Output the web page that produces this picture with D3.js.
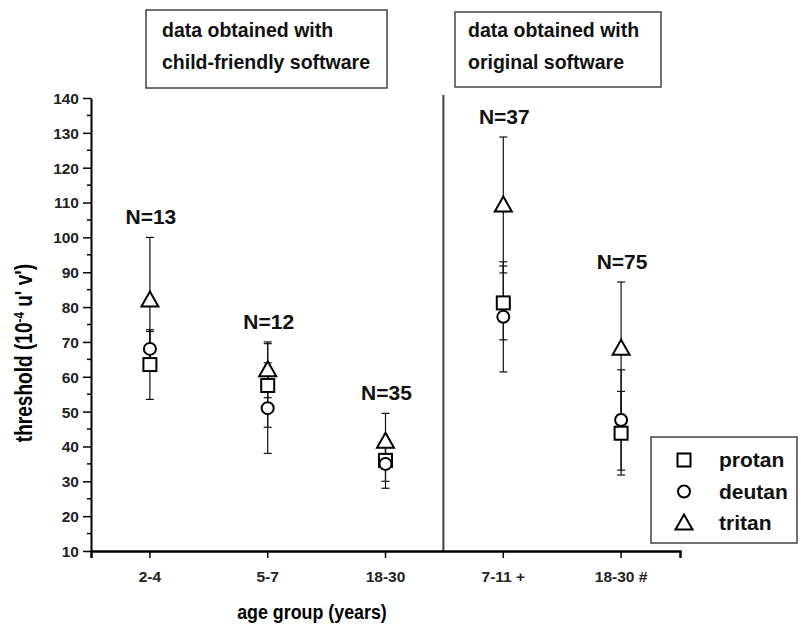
<!DOCTYPE html>
<html><head><meta charset="utf-8">
<script src="https://cdn.jsdelivr.net/npm/d3@7"></script>
<style>body{margin:0;background:#fff}svg{display:block}text{font-family:"Liberation Sans",Arial,sans-serif}</style>
</head><body><svg id="c" width="801" height="627"></svg>
<script>
const categories = ["2-4", "5-7", "18-30", "7-11 +", "18-30 #"];
const sampleN = ["N=13", "N=12", "N=35", "N=37", "N=75"];
const protanMean = [63.5, 57.5, 36, 81.2, 43.8];
const protanErr  = [10, 12, 6, 10.6, 12];
const deutanMean = [68, 51, 35, 77.2, 47.6];
const deutanErr  = [5, 13, 7, 15.8, 14.4];
const tritanMean = [82, 62, 41.5, 109.3, 68.2];
const tritanErr  = [18, 8, 8, 19.5, 19];
const yTicks = [10, 20, 30, 40, 50, 60, 70, 80, 90, 100, 110, 120, 130, 140];
const seriesNames = ["protan", "deutan", "tritan"];
const boxTexts = [["data obtained with", "child-friendly software"], ["data obtained with", "original software"]];

const svg = d3.select("#c");
const x = d3.scaleBand().domain(categories).range([91, 680]);
const y = d3.scaleLinear().domain([10, 140]).range([551, 98]);
const cx = c => x(c) + x.bandwidth() / 2;

const series = [
  {name: "protan", mean: protanMean, err: protanErr, shape: "square"},
  {name: "deutan", mean: deutanMean, err: deutanErr, shape: "circle"},
  {name: "tritan", mean: tritanMean, err: tritanErr, shape: "triangle"}
];

// divider
svg.append("line").attr("x1", x(categories[3]) - 1).attr("x2", x(categories[3]) - 1)
  .attr("y1", 95).attr("y2", y(10)).attr("stroke", "#444").attr("stroke-width", 2);

// y axis
const ya = svg.append("g").attr("transform", "translate(91,0)")
  .call(d3.axisLeft(y).tickValues(yTicks).tickSize(8).tickSizeOuter(0).tickPadding(4));
ya.select(".domain").attr("stroke", "#000").attr("stroke-width", 2);
ya.selectAll(".tick line").attr("stroke", "#000").attr("stroke-width", 1.5);
ya.selectAll("text").attr("font-size", 15.5).attr("font-weight", "bold").attr("fill", "#222").attr("dy", "0.35em");
// minor ticks
svg.append("g").selectAll("line").data(d3.range(15, 140, 10)).join("line")
  .attr("x1", 87).attr("x2", 91).attr("y1", d => y(d)).attr("y2", d => y(d))
  .attr("stroke", "#000").attr("stroke-width", 1.5);

// x axis
const xa = svg.append("g").attr("transform", `translate(0,${y(10)})`)
  .call(d3.axisBottom(x).tickSize(7).tickSizeOuter(7).tickPadding(13));
xa.select(".domain").attr("stroke", "#000").attr("stroke-width", 2.5);
xa.selectAll(".tick line").attr("stroke", "#000").attr("stroke-width", 1.5);
xa.selectAll("text").attr("font-size", 15.5).attr("font-weight", "bold").attr("fill", "#222");

// axis titles
svg.append("text").attr("transform", "translate(312,619) scale(0.85,1)").attr("text-anchor", "middle")
  .attr("font-size", 21).attr("font-weight", "bold").text("age group (years)");
const yt = svg.append("text").attr("transform", "translate(32,353) rotate(-90) scale(0.83,1)")
  .attr("text-anchor", "middle").attr("font-size", 23).attr("font-weight", "bold");
yt.append("tspan").text("threshold  (10");
yt.append("tspan").attr("dy", -8).attr("font-size", 14).text("-4");
yt.append("tspan").attr("dy", 8).text(" u' v')");

// error bars
series.forEach(s => {
  const g = svg.append("g");
  categories.forEach((c, i) => {
    const top = y(s.mean[i] + s.err[i]), bot = y(s.mean[i] - s.err[i]), xx = cx(c);
    g.append("line").attr("x1", xx).attr("x2", xx).attr("y1", top).attr("y2", bot).attr("stroke", "#111").attr("stroke-width", 1.2);
    [top, bot].forEach(v => g.append("line").attr("x1", xx - 4).attr("x2", xx + 4).attr("y1", v).attr("y2", v).attr("stroke", "#111").attr("stroke-width", 1.2));
  });
});

function drawSymbol(g, shape, px, py) {
  if (shape === "square") g.append("rect").attr("x", px - 6.5).attr("y", py - 6.5).attr("width", 13).attr("height", 13);
  else if (shape === "circle") g.append("circle").attr("cx", px).attr("cy", py).attr("r", 6);
  else g.append("path").attr("d", `M${px},${py - 8.5}L${px + 8.5},${py + 6.5}L${px - 8.5},${py + 6.5}Z`);
}
series.forEach(s => {
  const g = svg.append("g").attr("fill", "#fff").attr("stroke", "#000").attr("stroke-width", 2);
  categories.forEach((c, i) => drawSymbol(g, s.shape, cx(c), y(s.mean[i])));
});

// N labels
categories.forEach((c, i) => {
  const topVal = d3.max(series, s => s.mean[i] + s.err[i]);
  svg.append("text").attr("x", cx(c) + 1).attr("y", y(topVal) - 13).attr("text-anchor", "middle")
    .attr("font-size", 21).attr("font-weight", "bold").attr("fill", "#111").text(sampleN[i]);
});

// top boxes
const boxes = [{x: 146, y: 10, w: 241, h: 78, tx: 162}, {x: 455, y: 12, w: 206, h: 75, tx: 468}];
boxes.forEach((b, k) => {
  svg.append("rect").attr("x", b.x).attr("y", b.y).attr("width", b.w).attr("height", b.h)
    .attr("fill", "#fff").attr("stroke", "#444").attr("stroke-width", 1.5);
  boxTexts[k].forEach((t, j) => svg.append("text").attr("x", b.tx).attr("y", 37 + j * 32)
    .attr("font-size", 19.5).attr("font-weight", "bold").attr("fill", "#111").text(t));
});

// legend
svg.append("rect").attr("x", 651).attr("y", 437).attr("width", 146).attr("height", 106)
  .attr("fill", "#fff").attr("stroke", "#444").attr("stroke-width", 1.5);
series.forEach((s, i) => {
  const ly = 460 + i * 31.5;
  const g = svg.append("g").attr("fill", "#fff").attr("stroke", "#000").attr("stroke-width", 2);
  drawSymbol(g, s.shape, 684, ly);
  svg.append("text").attr("x", 719).attr("y", ly).attr("dy", "0.35em").attr("font-size", 21)
    .attr("font-weight", "bold").attr("fill", "#111").text(seriesNames[i]);
});
</script></body></html>
